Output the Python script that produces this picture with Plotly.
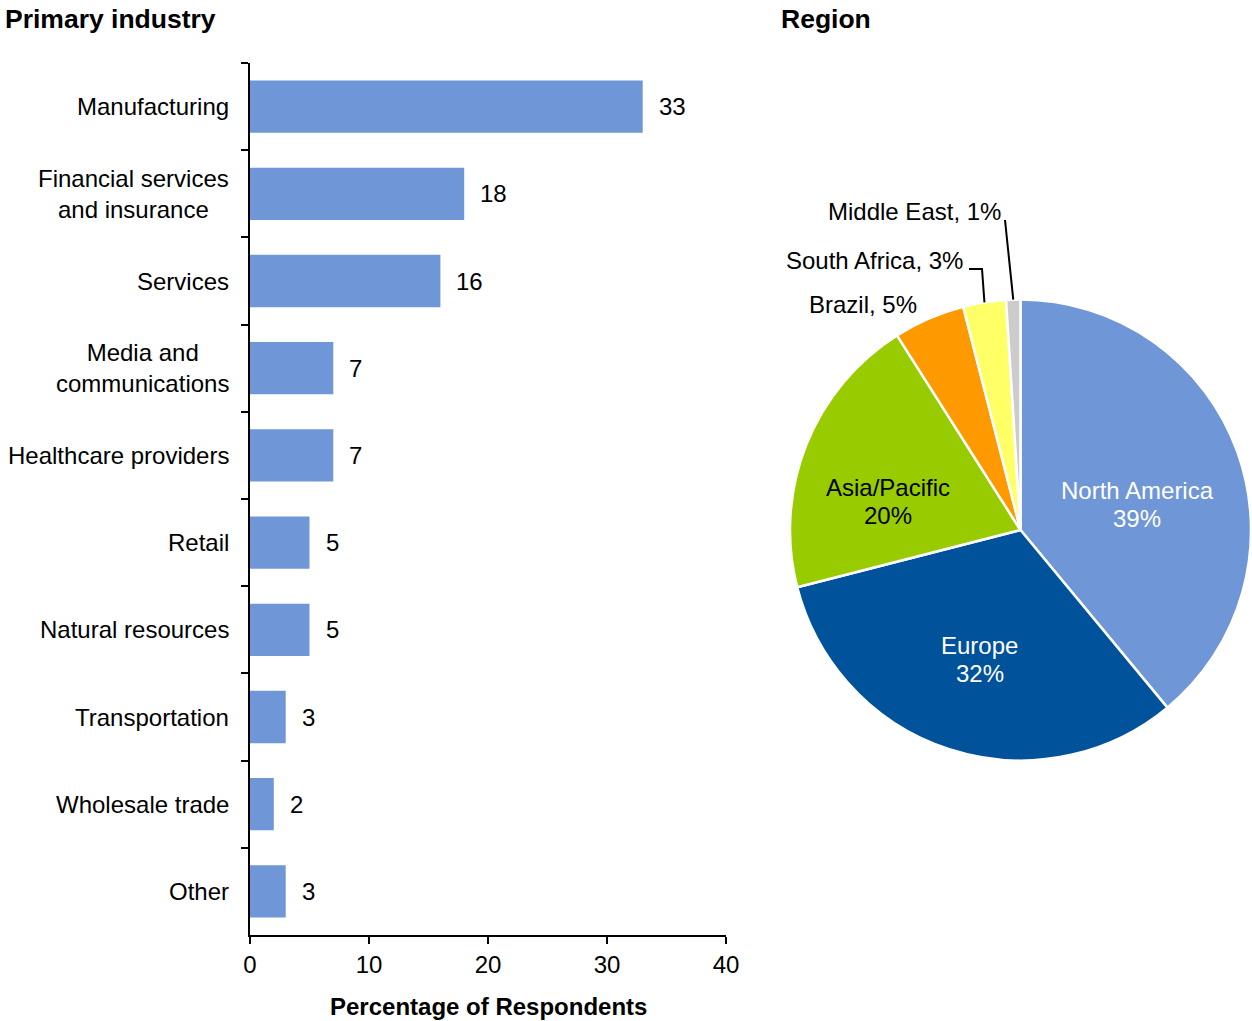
import math
import plotly.graph_objects as go

# ---- Data ----
industries = [
    "Manufacturing",
    "Financial services<br>and insurance",
    "Services",
    "Media and<br>communications",
    "Healthcare providers",
    "Retail",
    "Natural resources",
    "Transportation",
    "Wholesale trade",
    "Other",
]
industry_pct = [33, 18, 16, 7, 7, 5, 5, 3, 2, 3]

regions = ["North America", "Europe", "Asia/Pacific", "Brazil", "South Africa", "Middle East"]
region_pct = [39, 32, 20, 5, 3, 1]
region_colors = ["#6F96D6", "#00529B", "#99CC00", "#FF9900", "#FFFF66", "#CCCCCC"]
region_text_colors = ["white", "white", "black", "black", "black", "black"]

x_ticks = [0, 10, 20, 30, 40]

# ---- Layout constants ----
W, H = 1252, 1021
FONT = "Liberation Sans, Arial, sans-serif"
BAR_COLOR = "#6F96D6"

bar_x_dom = [250 / W, 726 / W]
bar_y_dom = [1 - 935 / H, 1 - 63 / H]

pie_x_dom = [790 / W, 1251 / W]
pie_y_dom = [1 - 761 / H, 1 - 299 / H]


def px_to_paper(px, py):
    return px / W, 1 - py / H


fig = go.Figure()

# Horizontal bars
fig.add_trace(go.Bar(
    x=industry_pct,
    y=industries,
    orientation="h",
    marker=dict(color=BAR_COLOR, line=dict(width=0)),
    width=0.6,
    hoverinfo="x+y",
    showlegend=False,
))

# Pie of regions (labels are placed as annotations below)
fig.add_trace(go.Pie(
    labels=regions,
    values=region_pct,
    sort=False,
    direction="clockwise",
    rotation=0,
    domain=dict(x=pie_x_dom, y=pie_y_dom),
    marker=dict(colors=region_colors, line=dict(color="white", width=2.5)),
    textinfo="none",
    automargin=False,
    showlegend=False,
))

annotations = []

# Category labels (centred multi-line blocks, right-aligned to the axis)
for cat in industries:
    annotations.append(dict(
        x=bar_x_dom[0], xref="paper", y=cat, yref="y",
        xanchor="right", yanchor="middle", xshift=-19, align="center",
        text=cat, showarrow=False,
        font=dict(family=FONT, size=24, color="black"),
    ))

# Value labels next to the bars
for cat, v in zip(industries, industry_pct):
    annotations.append(dict(
        x=v, xref="x", y=cat, yref="y",
        xanchor="left", yanchor="middle", xshift=14,
        text=str(v), showarrow=False,
        font=dict(family=FONT, size=24, color="black"),
    ))

# Panel titles
tx, ty = px_to_paper(3, 19)
annotations.append(dict(x=tx, y=ty, xref="paper", yref="paper", xanchor="left", yanchor="middle",
                        text="<b>Primary industry</b>", showarrow=False,
                        font=dict(family=FONT, size=26.5, color="black")))
tx, ty = px_to_paper(779, 19)
annotations.append(dict(x=tx, y=ty, xref="paper", yref="paper", xanchor="left", yanchor="middle",
                        text="<b>Region</b>", showarrow=False,
                        font=dict(family=FONT, size=26.5, color="black")))

# Axis title
tx, ty = px_to_paper(488, 1006)
annotations.append(dict(x=tx, y=ty, xref="paper", yref="paper", xanchor="center", yanchor="middle",
                        text="<b>Percentage of Respondents</b>", showarrow=False,
                        font=dict(family=FONT, size=24, color="black")))

# ---- Pie labels ----
cx = (pie_x_dom[0] + pie_x_dom[1]) / 2 * W
cy = (1 - (pie_y_dom[0] + pie_y_dom[1]) / 2) * H
R = min((pie_x_dom[1] - pie_x_dom[0]) * W, (pie_y_dom[1] - pie_y_dom[0]) * H) / 2
total = sum(region_pct)

# Labels drawn inside the larger slices: centre of the first line, in pixels
inside_labels = {
    "North America": (1137, 490),
    "Europe": (980, 645),
    "Asia/Pacific": (888, 487),
}
LINE_GAP = 28
for name, (lx, ly) in inside_labels.items():
    i = regions.index(name)
    for k, line in enumerate([name, f"{region_pct[i]}%"]):
        ax_, ay_ = px_to_paper(lx, ly + k * LINE_GAP)
        annotations.append(dict(x=ax_, y=ay_, xref="paper", yref="paper",
                                xanchor="center", yanchor="middle",
                                text=line, showarrow=False,
                                font=dict(family=FONT, size=24, color=region_text_colors[i])))


def slice_edge(idx):
    start = sum(region_pct[:idx])
    theta = (start + region_pct[idx] / 2) / total * 2 * math.pi
    return cx + R * math.sin(theta), cy - R * math.cos(theta)


# Labels outside the small slices: right edge / vertical centre, in pixels
outside_labels = {
    "Brazil": (919, 304),
    "South Africa": (965, 260),
    "Middle East": (1003, 211),
}
for name, (lx, ly) in outside_labels.items():
    i = regions.index(name)
    ax_, ay_ = px_to_paper(lx, ly)
    annotations.append(dict(x=ax_, y=ay_, xref="paper", yref="paper", xanchor="right", yanchor="middle",
                            text=f"{name}, {region_pct[i]}%", showarrow=False,
                            font=dict(family=FONT, size=24, color="black")))

shapes = []
# South Africa: elbow leader
ex, ey = slice_edge(regions.index("South Africa"))
pts = [(ex, ey), (982, 269), (969, 269)]
path = "M " + " L ".join(f"{px / W:.5f},{1 - py / H:.5f}" for px, py in pts)
shapes.append(dict(type="path", path=path, xref="paper", yref="paper",
                   line=dict(color="black", width=2)))
# Middle East: straight leader
ex, ey = slice_edge(regions.index("Middle East"))
x0, y0 = px_to_paper(ex, ey)
x1, y1 = px_to_paper(1005, 220)
shapes.append(dict(type="line", x0=x0, y0=y0, x1=x1, y1=y1, xref="paper", yref="paper",
                   line=dict(color="black", width=2)))

fig.update_layout(
    width=W, height=H,
    margin=dict(l=0, r=0, t=0, b=0, autoexpand=False),
    paper_bgcolor="white",
    plot_bgcolor="white",
    showlegend=False,
    font=dict(family=FONT, size=24, color="black"),
    xaxis=dict(
        domain=bar_x_dom,
        range=[0, 40],
        tickvals=x_ticks,
        ticktext=[str(t) for t in x_ticks],
        ticks="outside", ticklen=7, tickwidth=1.5, tickcolor="black",
        showline=True, linecolor="black", linewidth=1.5,
        showgrid=False, zeroline=False,
        tickfont=dict(family=FONT, size=24, color="black"),
        fixedrange=True,
    ),
    yaxis=dict(
        domain=bar_y_dom,
        type="category",
        categoryorder="array", categoryarray=industries,
        range=[len(industries) - 0.5, -0.5],
        tickson="boundaries",
        ticks="outside", ticklen=7, tickwidth=1.5, tickcolor="black",
        showticklabels=False,
        showline=True, linecolor="black", linewidth=1.5,
        showgrid=False, zeroline=False,
        fixedrange=True,
    ),
    annotations=annotations,
    shapes=shapes,
    bargap=0.4,
)

fig.write_html("out.html")
